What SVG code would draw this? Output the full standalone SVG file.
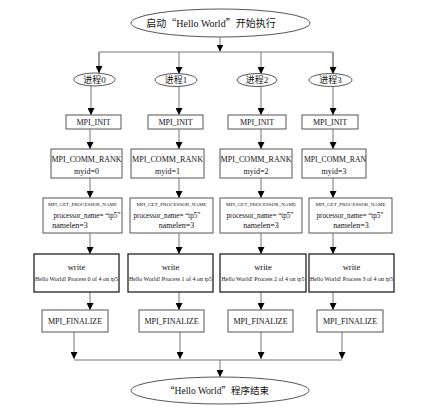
<svg xmlns="http://www.w3.org/2000/svg" width="440" height="413" viewBox="0 0 440 413">
<style>
text{font-family:"Liberation Serif","Noto Sans CJK SC",serif;fill:#111;text-anchor:middle}
.cjk{font-family:"Liberation Serif","Noto Sans CJK SC",sans-serif}
.q{font-family:"Noto Sans CJK SC",sans-serif}
.el{fill:#fff;stroke:#555;stroke-width:1}
.bx{fill:#fff;stroke:#555;stroke-width:1}
.bw{fill:#fff;stroke:#222;stroke-width:1.3}
.cn{fill:none;stroke:#777;stroke-width:1}
.t9{font-size:8.6px}
.t8{font-size:8px}
.tiny{font-size:4.3px}
.hw{font-size:5.6px}
</style>
<defs>
<marker id="a" markerUnits="userSpaceOnUse" markerWidth="7" markerHeight="7" refX="7" refY="3.5" orient="auto" viewBox="0 0 7 7">
<path d="M0,0 L7,3.5 L0,7 z" fill="#000"/>
</marker>
</defs>

<g id="connectors">
<path class="cn" d="M220,37 V51.5" marker-end="url(#a)"/>
<path class="cn" d="M99,73 V52 H333 V73.5"/>
<path class="cn" d="M99,52 V73" marker-end="url(#a)"/>
<path class="cn" d="M179,52 V74" marker-end="url(#a)"/>
<path class="cn" d="M261,52 V74" marker-end="url(#a)"/>
<path class="cn" d="M333,52 V74" marker-end="url(#a)"/>
<path class="cn" d="M91,86 V115" marker-end="url(#a)"/>
<path class="cn" d="M90,129 V149" marker-end="url(#a)"/>
<path class="cn" d="M90,178 V198" marker-end="url(#a)"/>
<path class="cn" d="M90,233 V254" marker-end="url(#a)"/>
<path class="cn" d="M90,292 V310" marker-end="url(#a)"/>
<path class="cn" d="M179,86 V115" marker-end="url(#a)"/>
<path class="cn" d="M179,129 V149" marker-end="url(#a)"/>
<path class="cn" d="M179,178 V198" marker-end="url(#a)"/>
<path class="cn" d="M179,233 V254" marker-end="url(#a)"/>
<path class="cn" d="M179,292 V310" marker-end="url(#a)"/>
<path class="cn" d="M261,86 V115" marker-end="url(#a)"/>
<path class="cn" d="M261,129 V149" marker-end="url(#a)"/>
<path class="cn" d="M261,178 V198" marker-end="url(#a)"/>
<path class="cn" d="M261,233 V254" marker-end="url(#a)"/>
<path class="cn" d="M261,292 V310" marker-end="url(#a)"/>
<path class="cn" d="M333,86 V115" marker-end="url(#a)"/>
<path class="cn" d="M333,129 V149" marker-end="url(#a)"/>
<path class="cn" d="M333,178 V198" marker-end="url(#a)"/>
<path class="cn" d="M333,233 V254" marker-end="url(#a)"/>
<path class="cn" d="M333,292 V310" marker-end="url(#a)"/>
<path class="cn" d="M74,332 V359" marker-end="url(#a)"/>
<path class="cn" d="M180,332 V359" marker-end="url(#a)"/>
<path class="cn" d="M261,332 V359" marker-end="url(#a)"/>
<path class="cn" d="M342,332 V359" marker-end="url(#a)"/>
<path class="cn" d="M74,360 H342"/>
<path class="cn" d="M220,360 V377" marker-end="url(#a)"/>
</g>

<g id="start">
<ellipse class="el" cx="220.5" cy="23" rx="89.5" ry="14"/>
<text class="cjk" x="211" y="26.5" style="font-size:10px">启动<tspan class="q">“</tspan>Hello World<tspan class="q">”</tspan>开始执行</text>
</g>

<g id="p0"><ellipse class="el" cx="94.5" cy="79.5" rx="20.5" ry="6.5"/><text class="cjk" x="94.5" y="82.7" style="font-size:9px">进程0</text></g>
<g id="p1"><ellipse class="el" cx="176" cy="80" rx="21" ry="6.5"/><text class="cjk" x="176" y="83.2" style="font-size:9px">进程1</text></g>
<g id="p2"><ellipse class="el" cx="257" cy="80" rx="20" ry="6.5"/><text class="cjk" x="257" y="83.2" style="font-size:9px">进程2</text></g>
<g id="p3"><ellipse class="el" cx="330.5" cy="80" rx="21.5" ry="6.5"/><text class="cjk" x="330.5" y="83.2" style="font-size:9px">进程3</text></g>

<g id="init0"><rect class="bx" x="66" y="115" width="55" height="14"/><text class="t8" x="93.5" y="125">MPI_INIT</text></g>
<g id="init1"><rect class="bx" x="148" y="115" width="55" height="14"/><text class="t8" x="175.5" y="125">MPI_INIT</text></g>
<g id="init2"><rect class="bx" x="228" y="115" width="58" height="14"/><text class="t8" x="257" y="125">MPI_INIT</text></g>
<g id="init3"><rect class="bx" x="302" y="115" width="56" height="14"/><text class="t8" x="330" y="125">MPI_INIT</text></g>

<g id="rank0"><rect class="bx" x="51" y="149" width="71" height="29"/><text class="t8" x="86.5" y="162" textLength="70" lengthAdjust="spacingAndGlyphs">MPI_COMM_RANK</text><text class="t8" x="86.5" y="174">myid=0</text></g>
<g id="rank1"><rect class="bx" x="131" y="149" width="73" height="29"/><text class="t8" x="167.5" y="162" textLength="71" lengthAdjust="spacingAndGlyphs">MPI_COMM_RANK</text><text class="t8" x="167.5" y="174">myid=1</text></g>
<g id="rank2"><rect class="bx" x="220" y="149" width="72" height="29"/><text class="t8" x="256" y="162" textLength="71" lengthAdjust="spacingAndGlyphs">MPI_COMM_RANK</text><text class="t8" x="256" y="174">myid=2</text></g>
<g id="rank3"><rect class="bx" x="302" y="149" width="64" height="29"/><text class="t8" x="335" y="162" textLength="62" lengthAdjust="spacingAndGlyphs">MPI_COMM_RAN</text><text class="t8" x="334" y="174">myid=3</text></g>

<g id="get0"><rect class="bx" x="43" y="198" width="79" height="35"/><text class="tiny" x="82.5" y="205.5" textLength="69" lengthAdjust="spacingAndGlyphs">MPI_GET_PROCESSOR_NAME</text><text class="t8" x="87" y="218" textLength="67" lengthAdjust="spacingAndGlyphs">processor_name= “tp5”</text><text class="t8" x="70" y="227.5">namelen=3</text></g>
<g id="get1"><rect class="bx" x="130" y="198" width="83" height="35"/><text class="tiny" x="171.5" y="205.5" textLength="70" lengthAdjust="spacingAndGlyphs">MPI_GET_PROCESSOR_NAME</text><text class="t8" x="167" y="218" textLength="67" lengthAdjust="spacingAndGlyphs">processor_name= “tp5”</text><text class="t8" x="176.5" y="227.5">namelen=3</text></g>
<g id="get2"><rect class="bx" x="220" y="198" width="82" height="35"/><text class="tiny" x="261" y="205.5" textLength="70" lengthAdjust="spacingAndGlyphs">MPI_GET_PROCESSOR_NAME</text><text class="t8" x="260" y="218" textLength="67" lengthAdjust="spacingAndGlyphs">processor_name= “tp5”</text><text class="t8" x="261" y="227.5">namelen=3</text></g>
<g id="get3"><rect class="bx" x="309" y="198" width="83" height="35"/><text class="tiny" x="350.5" y="205.5" textLength="70" lengthAdjust="spacingAndGlyphs">MPI_GET_PROCESSOR_NAME</text><text class="t8" x="350" y="218" textLength="67" lengthAdjust="spacingAndGlyphs">processor_name= “tp5”</text><text class="t8" x="351" y="227.5">namelen=3</text></g>

<g id="write0"><rect class="bw" x="34" y="254" width="85" height="38"/><text class="t9" x="76.5" y="270">write</text><text class="hw" x="76.5" y="280.5" textLength="83" lengthAdjust="spacingAndGlyphs">Hello World! Process 0 of 4 on tp5</text></g>
<g id="write1"><rect class="bw" x="128" y="254" width="85" height="38"/><text class="t9" x="170.5" y="270">write</text><text class="hw" x="170.5" y="280.5" textLength="83" lengthAdjust="spacingAndGlyphs">Hello World! Process 1 of 4 on tp5</text></g>
<g id="write2"><rect class="bw" x="220" y="254" width="86" height="38"/><text class="t9" x="263" y="270">write</text><text class="hw" x="263" y="280.5" textLength="83" lengthAdjust="spacingAndGlyphs">Hello World! Process 2 of 4 on tp5</text></g>
<g id="write3"><rect class="bw" x="309" y="254" width="85" height="38"/><text class="t9" x="351.5" y="270">write</text><text class="hw" x="351.5" y="280.5" textLength="83" lengthAdjust="spacingAndGlyphs">Hello World! Process 3 of 4 on tp5</text></g>

<g id="fin0"><rect class="bx" x="42" y="310" width="66" height="22"/><text class="t8" x="75" y="324">MPI_FINALIZE</text></g>
<g id="fin1"><rect class="bx" x="139" y="310" width="65" height="22"/><text class="t8" x="171.5" y="324">MPI_FINALIZE</text></g>
<g id="fin2"><rect class="bx" x="228" y="310" width="65" height="22"/><text class="t8" x="260.5" y="324">MPI_FINALIZE</text></g>
<g id="fin3"><rect class="bx" x="317" y="310" width="66" height="22"/><text class="t8" x="350" y="324">MPI_FINALIZE</text></g>

<g id="end">
<ellipse class="el" cx="220" cy="390.5" rx="89" ry="13.5"/>
<text class="cjk" x="217" y="394" style="font-size:9.5px"><tspan class="q">“</tspan>Hello World<tspan class="q">”</tspan>程序结束</text>
</g>
</svg>
